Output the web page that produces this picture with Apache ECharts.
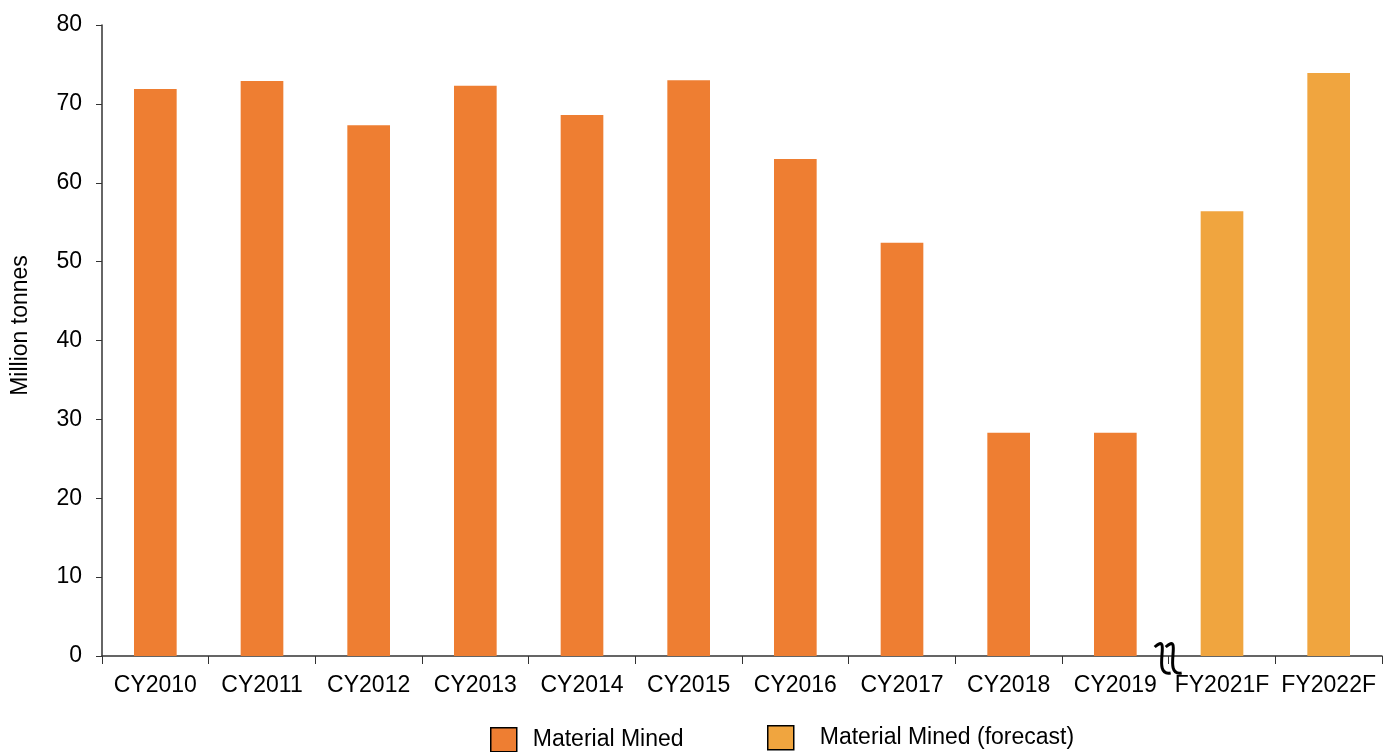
<!DOCTYPE html>
<html>
<head>
<meta charset="utf-8">
<script src="https://cdn.jsdelivr.net/npm/echarts@6/dist/echarts.min.js"></script>
<style>
  html, body { margin: 0; padding: 0; background: #fff; }
  #chart { width: 1393px; height: 752px; }
</style>
</head>
<body>
<div id="chart"></div>
<script>
// Chart data
const categories = ["CY2010", "CY2011", "CY2012", "CY2013", "CY2014", "CY2015", "CY2016", "CY2017", "CY2018", "CY2019", "FY2021F", "FY2022F"];
const minedValues = [71.9, 72.9, 67.3, 72.3, 68.6, 73.0, 63.0, 52.4, 28.3, 28.3, null, null];
const forecastValues = [null, null, null, null, null, null, null, null, null, null, 56.4, 73.9];
const yTicks = { min: 0, max: 80, interval: 10 };

const FONT = "Liberation Sans, Arial, sans-serif";
const myChart = echarts.init(document.getElementById("chart"));

// one legend per entry so each can sit where the original has it
const legendBox = (name, left, top, gap) => ({
  left: left,
  top: top,
  padding: 0,
  icon: "rect",
  itemWidth: 26,
  itemHeight: 24,
  textStyle: { fontSize: 23, color: "#000", fontFamily: FONT, padding: [7, 0, 0, gap] },
  data: [{ name: name, itemStyle: { borderColor: "#000", borderWidth: 1.5 } }],
});

const option = {
  backgroundColor: "#fff",
  textStyle: { fontFamily: FONT },
  grid: { left: 102, right: 11, top: 25, bottom: 96, outerBoundsMode: "none" },
  legend: [
    legendBox("Material Mined", 490, 727, 11),
    legendBox("Material Mined (forecast)", 767, 725, 21),
  ],
  xAxis: {
    type: "category",
    data: categories,
    axisLine: { lineStyle: { color: "#333", width: 1.5 } },
    axisTick: { show: true, length: 8, lineStyle: { color: "#333" } },
    axisLabel: { fontSize: 23, color: "#000", margin: 18, fontFamily: FONT, interval: 0 },
  },
  yAxis: {
    type: "value",
    min: yTicks.min,
    max: yTicks.max,
    interval: yTicks.interval,
    name: "Million tonnes",
    nameLocation: "middle",
    nameRotate: 90,
    nameGap: 70,
    nameTextStyle: { fontSize: 23, color: "#000", fontFamily: FONT, padding: [0, 0, 0, 30] },
    splitLine: { show: false },
    axisLine: { show: true, lineStyle: { color: "#333", width: 1.5 } },
    axisTick: { show: true, length: 6, lineStyle: { color: "#333" } },
    axisLabel: { fontSize: 23, color: "#000", margin: 20, fontFamily: FONT },
  },
  series: [
    {
      name: "Material Mined",
      type: "bar",
      stack: "m",
      barWidth: "40%",
      data: minedValues,
      itemStyle: { color: "#EE7E32" },
    },
    {
      name: "Material Mined (forecast)",
      type: "bar",
      stack: "m",
      barWidth: "40%",
      data: forecastValues,
      itemStyle: { color: "#F0A53F" },
    },
  ],
};
myChart.setOption(option);

// axis break squiggle between CY2019 and FY2021F
const a = myChart.convertToPixel({ xAxisIndex: 0 }, categories[9]);
const b = myChart.convertToPixel({ xAxisIndex: 0 }, categories[10]);
const bx = (a + b) / 2 + 3;
const by = myChart.convertToPixel({ yAxisIndex: 0 }, 0);
const squiggle = (dx) => ({
  type: "bezierCurve",
  shape: {
    x1: bx + dx - 13, y1: by - 9,
    x2: bx + dx + 3, y2: by + 17,
    cpx1: bx + dx + 5, cpy1: by - 25,
    cpx2: bx + dx - 17, cpy2: by + 21,
  },
  style: { stroke: "#000", lineWidth: 3, fill: null },
  z: 100,
});
myChart.setOption({
  graphic: [squiggle(-4), squiggle(7)],
});
</script>
</body>
</html>
